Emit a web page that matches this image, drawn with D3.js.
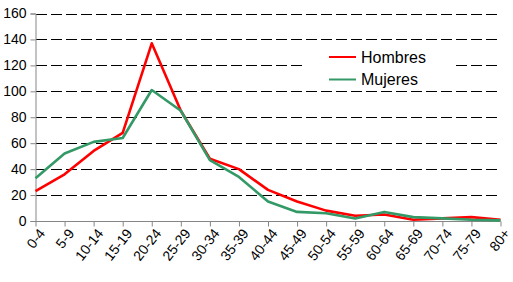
<html lang="es">
<head>
    <meta charset="UTF-8">
    <title>Hombres y Mujeres</title>
    <script src="https://cdn.jsdelivr.net/npm/d3@7/dist/d3.min.js"></script>
    <style>
        body { margin: 0; background: #fff; }
        text { font-family: "Liberation Sans", Arial, sans-serif; }
    </style>
</head>
<body>
    <svg id="svg"></svg>
    <script>
        var WIDTH = 513;
        var HEIGHT = 282;

        var grupos = ["0-4","5-9","10-14","15-19","20-24","25-29","30-34","35-39","40-44",
                      "45-49","50-54","55-59","60-64","65-69","70-74","75-79","80+"];
        var hombres = [23, 36, 54, 68, 137, 85, 48, 40, 24, 15, 8, 4, 5, 1, 2, 3, 1];
        var mujeres = [33, 52, 61, 64, 101, 85, 47, 34, 15, 7, 6, 2, 7, 3, 2, 1, 0.5];
        var yTicks = [0, 20, 40, 60, 80, 100, 120, 140, 160];

        var series = [
            {name: "Hombres", values: hombres, color: "#ff0000"},
            {name: "Mujeres", values: mujeres, color: "#339966"}
        ];

        var svg = d3.select("#svg")
                    .attr("width", WIDTH)
                    .attr("height", HEIGHT);

        var xScale = d3.scalePoint()
                       .domain(grupos)
                       .range([35.5, 500.5]);

        var yScale = d3.scaleLinear()
                       .domain([0, 160])
                       .range([221, 13.5]);

        // grid
        svg.append("g")
           .selectAll("line")
           .data(yTicks.filter(function(d){ return d > 0; }))
           .enter()
           .append("line")
           .attr("x1", 36)
           .attr("x2", 501)
           .attr("y1", function(d){ return Math.round(yScale(d)) + 0.5; })
           .attr("y2", function(d){ return Math.round(yScale(d)) + 0.5; })
           .attr("stroke", "#000")
           .attr("stroke-width", 1)
           .attr("stroke-dasharray", "11,4");

        // y axis
        var yAxis = d3.axisLeft(yScale)
                      .tickValues(yTicks)
                      .tickSize(5)
                      .tickPadding(4)
                      .tickFormat(d3.format("d"));
        var gy = svg.append("g")
                    .attr("transform", "translate(35.5,0)")
                    .call(yAxis);
        gy.select(".domain").attr("stroke", "#868686");
        gy.selectAll(".tick line").attr("stroke", "#868686");
        gy.selectAll(".tick text")
          .attr("font-size", 14)
          .attr("fill", "#000")
          .style("font-family", "'Liberation Sans', Arial, sans-serif");

        // x axis
        var xAxis = d3.axisBottom(xScale)
                      .tickSize(5)
                      .tickPadding(3);
        var gx = svg.append("g")
                    .attr("transform", "translate(0,221.5)")
                    .call(xAxis);
        gx.select(".domain").attr("stroke", "#868686").attr("d", "M35.5,0H500.5");
        gx.selectAll(".tick line").attr("stroke", "#868686");
        gx.selectAll(".tick text")
          .attr("font-size", 14)
          .attr("fill", "#000")
          .style("font-family", "'Liberation Sans', Arial, sans-serif")
          .attr("text-anchor", "end")
          .attr("dy", "0.35em")
          .attr("transform", "translate(6,9) rotate(-52)")
          .attr("y", 0)
          .attr("x", 0);

        // lines
        var line = d3.line()
                     .x(function(d, i){ return xScale(grupos[i]); })
                     .y(function(d){ return yScale(d); });

        svg.selectAll("path.serie")
           .data(series)
           .enter()
           .append("path")
           .attr("class", "serie")
           .attr("fill", "none")
           .attr("stroke", function(d){ return d.color; })
           .attr("stroke-width", 2.6)
           .attr("stroke-linejoin", "round")
           .attr("d", function(d){ return line(d.values); });

        // legend
        var legend = svg.append("g").attr("transform", "translate(306,45)");
        legend.append("rect")
              .attr("width", 150)
              .attr("height", 42)
              .attr("fill", "#fff");
        var item = legend.selectAll("g.item")
                         .data(series)
                         .enter()
                         .append("g")
                         .attr("class", "item")
                         .attr("transform", function(d, i){ return "translate(0," + (12 + i * 22.5) + ")"; });
        item.append("line")
            .attr("x1", 23)
            .attr("x2", 50)
            .attr("stroke", function(d){ return d.color; })
            .attr("stroke-width", 2);
        item.append("text")
            .attr("x", 55)
            .attr("dy", "0.35em")
            .attr("font-size", 16)
            .attr("fill", "#000")
            .text(function(d){ return d.name; });
    </script>
</body>
</html>
